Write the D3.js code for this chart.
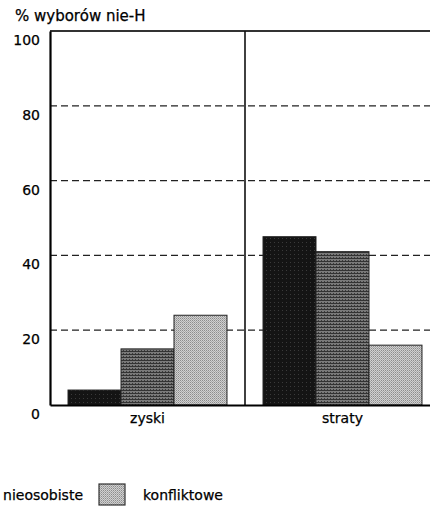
<!DOCTYPE html>
<html lang="pl">
<head>
<meta charset="UTF-8">
<title>% wyborów nie-H</title>
<script src="https://cdn.jsdelivr.net/npm/d3@7"></script>
<style>
body { margin: 0; background: #fff; }
svg text { font-family: "DejaVu Sans", sans-serif; fill: #000; stroke: #000; stroke-width: 0.25px; }
</style>
</head>
<body>
<svg id="wykres" width="430" height="509"></svg>
<script>
// dane
var kategorie = ["zyski", "straty"];
var serie = ["osobiste", "nieosobiste", "konfliktowe"];
var osobiste = [4, 45];
var nieosobiste = [15, 41];
var konfliktowe = [24, 16];
var tykiY = [0, 20, 40, 60, 80, 100];
var siatkaY = [20, 40, 60, 80];

var wartosci = [osobiste, nieosobiste, konfliktowe];
var dane = kategorie.map(function(k, i) {
  return { kat: k, slupki: serie.map(function(s, j) { return { seria: s, v: wartosci[j][i] }; }) };
});

var svg = d3.select("#wykres");
var lewo = 50, prawo = 440, gora = 31, dol = 405;

// wzory (rastry) slupkow
var defs = svg.append("defs");
var p0 = defs.append("pattern").attr("id", "wz0").attr("width", 4).attr("height", 4).attr("patternUnits", "userSpaceOnUse");
p0.append("rect").attr("width", 4).attr("height", 4).attr("fill", "#141414");
p0.append("rect").attr("x", 1).attr("y", 2).attr("width", 1).attr("height", 1).attr("fill", "#3a3a3a");
var p1 = defs.append("pattern").attr("id", "wz1").attr("width", 3).attr("height", 3).attr("patternUnits", "userSpaceOnUse");
p1.append("rect").attr("width", 3).attr("height", 3).attr("fill", "#7a7a7a");
p1.append("rect").attr("width", 3).attr("height", 1).attr("fill", "#333");
p1.append("rect").attr("x", 1).attr("y", 2).attr("width", 1).attr("height", 1).attr("fill", "#3a3a3a");
var p2 = defs.append("pattern").attr("id", "wz2").attr("width", 2).attr("height", 2).attr("patternUnits", "userSpaceOnUse");
p2.append("rect").attr("width", 2).attr("height", 2).attr("fill", "#d0d0d0");
p2.append("rect").attr("width", 1).attr("height", 1).attr("fill", "#8c8c8c");
p2.append("rect").attr("x", 1).attr("y", 1).attr("width", 1).attr("height", 1).attr("fill", "#a8a8a8");
var wypelnienie = d3.scaleOrdinal().domain(serie).range(["url(#wz0)", "url(#wz1)", "url(#wz2)"]);

var x = d3.scaleBand().domain(kategorie).range([lewo, prawo]).padding(0);
var xs = d3.scaleBand().domain(serie).range([0, x.bandwidth()]).paddingInner(0).paddingOuter(0.34);
var y = d3.scaleLinear().domain([0, 100]).range([dol, gora]);

// linie siatki
svg.append("g").selectAll("line").data(siatkaY).join("line")
  .attr("x1", lewo).attr("x2", 430)
  .attr("y1", function(d) { return y(d); }).attr("y2", function(d) { return y(d); })
  .attr("stroke", "#222").attr("stroke-width", 1.3).attr("stroke-dasharray", "7,4");

// gorna ramka i podzial
svg.append("line").attr("x1", lewo).attr("x2", 430).attr("y1", y(100)).attr("y2", y(100))
  .attr("stroke", "#333").attr("stroke-width", 2);
svg.append("line").attr("x1", x("straty")).attr("x2", x("straty")).attr("y1", y(100)).attr("y2", y(0))
  .attr("stroke", "#111").attr("stroke-width", 1.6);

// slupki
var grupy = svg.append("g").selectAll("g").data(dane).join("g")
  .attr("transform", function(d) { return "translate(" + x(d.kat) + ",0)"; });
grupy.selectAll("rect").data(function(d) { return d.slupki; }).join("rect")
  .attr("x", function(d) { return xs(d.seria); })
  .attr("width", xs.bandwidth())
  .attr("y", function(d) { return y(d.v); })
  .attr("height", function(d) { return y(0) - y(d.v); })
  .attr("fill", function(d) { return wypelnienie(d.seria); })
  .attr("stroke", "#222").attr("stroke-width", 1);

// os Y
var osY = svg.append("g").attr("transform", "translate(" + lewo + ",0)")
  .call(d3.axisLeft(y).tickValues(tykiY).tickSize(0).tickPadding(10));
osY.select(".domain").attr("stroke", "#000").attr("stroke-width", 2.2);
osY.selectAll("text").attr("font-size", 14).attr("y", 9);

// os X
var osX = svg.append("g").attr("transform", "translate(0," + dol + ")")
  .call(d3.axisBottom(x).tickSize(0).tickPadding(8));
osX.select(".domain").attr("stroke", "#000").attr("stroke-width", 2.2);
osX.selectAll("text").attr("font-size", 14);

// tytul osi
svg.append("text").attr("x", 15).attr("y", 21).attr("font-size", 15).text("% wyborów nie-H");

// legenda (pierwsza pozycja wypada poza lewa krawedz, jak w oryginale)
var leg = svg.append("g");
var pozycjaX = 99;
for (var i = serie.length - 1; i >= 0; i--) {
  var g = leg.append("g");
  g.append("rect").attr("y", 484).attr("width", 26).attr("height", 21)
    .attr("fill", wypelnienie(serie[i])).attr("stroke", "#333").attr("stroke-width", 1.2);
  var t = g.append("text").attr("x", 44).attr("y", 500).attr("font-size", 14).text(serie[i]);
  var szer = t.node().getComputedTextLength();
  if (i < serie.length - 1) pozycjaX = pozycjaX - 16 - szer - 44;
  g.attr("transform", "translate(" + pozycjaX + ",0)");
  if (pozycjaX + 44 < 0) { g.remove(); break; }
}
</script>
</body>
</html>
